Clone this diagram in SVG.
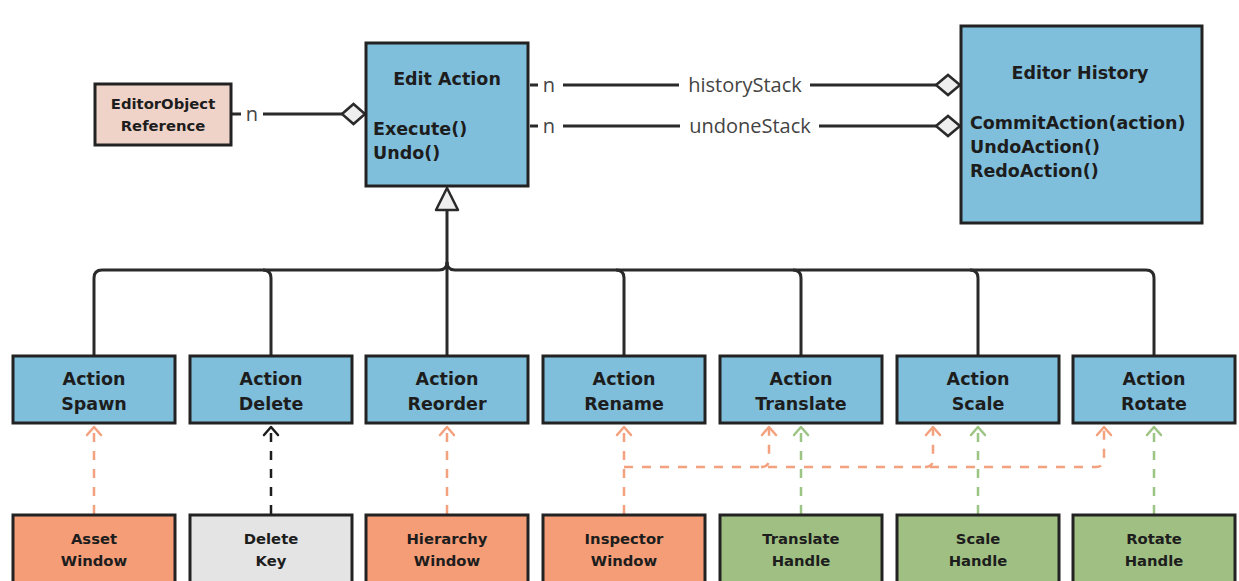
<svg xmlns="http://www.w3.org/2000/svg" width="1239" height="581" viewBox="0 0 1239 581">
  <style>
    .box { stroke: #222; stroke-width: 3; }
    .blue { fill: #80bfdc; }
    .pink { fill: #efd3c8; }
    .orange { fill: #f59d77; }
    .green { fill: #a0c083; }
    .gray { fill: #e4e4e4; }
    .t { font-family: "DejaVu Sans", "Noto Sans", sans-serif; font-weight: 700; fill: #1d1d1d; }
    .big { font-size: 17.5px; }
    .small { font-size: 14.8px; }
    .lbl { font-family: "Open Sans", "Noto Sans", sans-serif; font-size: 20px; fill: #444; }
    .solid { fill: none; stroke: #2a2a2a; stroke-width: 3; }
    .dash { fill: none; stroke-width: 2.5; stroke-dasharray: 9 9; }
    .head { fill: none; stroke-width: 2.5; stroke-linecap: round; stroke-linejoin: round; }
  </style>

  <rect width="1239" height="581" fill="#ffffff"/>

  <!-- connectors -->
  <g id="connectors">
    <!-- aggregation: EditorObject Reference to Edit Action -->
    <path class="solid" d="M232 114 H241 M263 114 H342"/>
    <text class="lbl" x="252" y="121" text-anchor="middle">n</text>
    <path d="M342 114 L353.5 104 L365 114 L353.5 124 Z" fill="#eeeeee" stroke="#2a2a2a" stroke-width="2.5"/>

    <!-- aggregation: historyStack -->
    <path class="solid" d="M530 85 H538 M563 85 H679 M810 85 H936"/>
    <text class="lbl" x="549" y="92" text-anchor="middle">n</text>
    <text class="lbl" x="745" y="92" text-anchor="middle">historyStack</text>
    <path d="M936 85 L948 75 L960 85 L948 95 Z" fill="#eeeeee" stroke="#2a2a2a" stroke-width="2.5"/>

    <!-- aggregation: undoneStack -->
    <path class="solid" d="M530 126 H538 M563 126 H680 M819 126 H936"/>
    <text class="lbl" x="549" y="133" text-anchor="middle">n</text>
    <text class="lbl" x="750" y="133" text-anchor="middle">undoneStack</text>
    <path d="M936 126 L948 116 L960 126 L948 136 Z" fill="#eeeeee" stroke="#2a2a2a" stroke-width="2.5"/>

    <!-- inheritance tree -->
    <path class="solid" d="M447 210 V262 Q447 270 439 270 H102 Q94 270 94 278 V356"/>
    <path class="solid" d="M263 270 Q271 270 271 278 V356"/>
    <path class="solid" d="M447 262 V356"/>
    <path class="solid" d="M447 262 Q447 270 455 270 H1146 Q1154 270 1154 278 V356"/>
    <path class="solid" d="M616 270 Q624 270 624 278 V356"/>
    <path class="solid" d="M793 270 Q801 270 801 278 V356"/>
    <path class="solid" d="M970 270 Q978 270 978 278 V356"/>
    <path d="M447 188 L458 210 L436 210 Z" fill="#eeeeee" stroke="#2a2a2a" stroke-width="2.5" stroke-linejoin="round"/>

    <!-- Asset Window to Action Spawn -->
    <path class="dash" stroke="#f3a17e" d="M94 514 V428"/>
    <path class="head" stroke="#f3a17e" d="M87 435 L94 427 L101 435"/>

    <!-- Delete Key to Action Delete -->
    <path class="dash" stroke="#1d1d1d" d="M271 514 V428"/>
    <path class="head" stroke="#1d1d1d" d="M264 435 L271 427 L278 435"/>

    <!-- Hierarchy Window to Action Reorder -->
    <path class="dash" stroke="#f3a17e" d="M447 514 V428"/>
    <path class="head" stroke="#f3a17e" d="M440 435 L447 427 L454 435"/>

    <!-- Inspector Window to Rename, Translate, Scale, Rotate -->
    <path class="dash" stroke="#f3a17e" d="M624 514 V428"/>
    <path class="head" stroke="#f3a17e" d="M617 435 L624 427 L631 435"/>
    <path class="dash" stroke="#f3a17e" d="M624 467 H1096 Q1104 467 1104 459 V428"/>
    <path class="dash" stroke="#f3a17e" d="M761 467 Q769 467 769 459 V428"/>
    <path class="dash" stroke="#f3a17e" d="M925 467 Q933 467 933 459 V428"/>
    <path class="head" stroke="#f3a17e" d="M762 435 L769 427 L776 435"/>
    <path class="head" stroke="#f3a17e" d="M926 435 L933 427 L940 435"/>
    <path class="head" stroke="#f3a17e" d="M1097 435 L1104 427 L1111 435"/>

    <!-- handles to their actions -->
    <path class="dash" stroke="#9cc483" d="M801 514 V428"/>
    <path class="head" stroke="#9cc483" d="M794 435 L801 427 L808 435"/>
    <path class="dash" stroke="#9cc483" d="M978 514 V428"/>
    <path class="head" stroke="#9cc483" d="M971 435 L978 427 L985 435"/>
    <path class="dash" stroke="#9cc483" d="M1154 514 V428"/>
    <path class="head" stroke="#9cc483" d="M1147 435 L1154 427 L1161 435"/>
  </g>

  <!-- top row -->
  <g id="editor-object-reference">
    <rect class="box pink" x="95" y="84" width="136" height="61"/>
    <text class="t small" x="163" y="109" text-anchor="middle">EditorObject</text>
    <text class="t small" x="163" y="131" text-anchor="middle">Reference</text>
  </g>

  <g id="edit-action">
    <rect class="box blue" x="366" y="43" width="162" height="143"/>
    <text class="t big" x="447" y="85" text-anchor="middle">Edit Action</text>
    <text class="t big" x="373" y="135">Execute()</text>
    <text class="t big" x="373" y="159">Undo()</text>
  </g>

  <g id="editor-history">
    <rect class="box blue" x="961" y="26" width="241" height="197"/>
    <text class="t big" x="1080" y="79" text-anchor="middle">Editor History</text>
    <text class="t big" x="970" y="129">CommitAction(action)</text>
    <text class="t big" x="970" y="153">UndoAction()</text>
    <text class="t big" x="970" y="177">RedoAction()</text>
  </g>

  <!-- action subclasses -->
  <g id="action-spawn">
    <rect class="box blue" x="13" y="356" width="162" height="67"/>
    <text class="t big" x="94" y="385" text-anchor="middle">Action</text>
    <text class="t big" x="94" y="410" text-anchor="middle">Spawn</text>
  </g>
  <g id="action-delete">
    <rect class="box blue" x="190" y="356" width="162" height="67"/>
    <text class="t big" x="271" y="385" text-anchor="middle">Action</text>
    <text class="t big" x="271" y="410" text-anchor="middle">Delete</text>
  </g>
  <g id="action-reorder">
    <rect class="box blue" x="366" y="356" width="162" height="67"/>
    <text class="t big" x="447" y="385" text-anchor="middle">Action</text>
    <text class="t big" x="447" y="410" text-anchor="middle">Reorder</text>
  </g>
  <g id="action-rename">
    <rect class="box blue" x="543" y="356" width="162" height="67"/>
    <text class="t big" x="624" y="385" text-anchor="middle">Action</text>
    <text class="t big" x="624" y="410" text-anchor="middle">Rename</text>
  </g>
  <g id="action-translate">
    <rect class="box blue" x="720" y="356" width="162" height="67"/>
    <text class="t big" x="801" y="385" text-anchor="middle">Action</text>
    <text class="t big" x="801" y="410" text-anchor="middle">Translate</text>
  </g>
  <g id="action-scale">
    <rect class="box blue" x="897" y="356" width="162" height="67"/>
    <text class="t big" x="978" y="385" text-anchor="middle">Action</text>
    <text class="t big" x="978" y="410" text-anchor="middle">Scale</text>
  </g>
  <g id="action-rotate">
    <rect class="box blue" x="1073" y="356" width="162" height="67"/>
    <text class="t big" x="1154" y="385" text-anchor="middle">Action</text>
    <text class="t big" x="1154" y="410" text-anchor="middle">Rotate</text>
  </g>

  <!-- input sources -->
  <g id="asset-window">
    <rect class="box orange" x="13" y="515" width="162" height="80"/>
    <text class="t small" x="94" y="544" text-anchor="middle">Asset</text>
    <text class="t small" x="94" y="566" text-anchor="middle">Window</text>
  </g>
  <g id="delete-key">
    <rect class="box gray" x="190" y="515" width="162" height="80"/>
    <text class="t small" x="271" y="544" text-anchor="middle">Delete</text>
    <text class="t small" x="271" y="566" text-anchor="middle">Key</text>
  </g>
  <g id="hierarchy-window">
    <rect class="box orange" x="366" y="515" width="162" height="80"/>
    <text class="t small" x="447" y="544" text-anchor="middle">Hierarchy</text>
    <text class="t small" x="447" y="566" text-anchor="middle">Window</text>
  </g>
  <g id="inspector-window">
    <rect class="box orange" x="543" y="515" width="162" height="80"/>
    <text class="t small" x="624" y="544" text-anchor="middle">Inspector</text>
    <text class="t small" x="624" y="566" text-anchor="middle">Window</text>
  </g>
  <g id="translate-handle">
    <rect class="box green" x="720" y="515" width="162" height="80"/>
    <text class="t small" x="801" y="544" text-anchor="middle">Translate</text>
    <text class="t small" x="801" y="566" text-anchor="middle">Handle</text>
  </g>
  <g id="scale-handle">
    <rect class="box green" x="897" y="515" width="162" height="80"/>
    <text class="t small" x="978" y="544" text-anchor="middle">Scale</text>
    <text class="t small" x="978" y="566" text-anchor="middle">Handle</text>
  </g>
  <g id="rotate-handle">
    <rect class="box green" x="1073" y="515" width="162" height="80"/>
    <text class="t small" x="1154" y="544" text-anchor="middle">Rotate</text>
    <text class="t small" x="1154" y="566" text-anchor="middle">Handle</text>
  </g>
</svg>
